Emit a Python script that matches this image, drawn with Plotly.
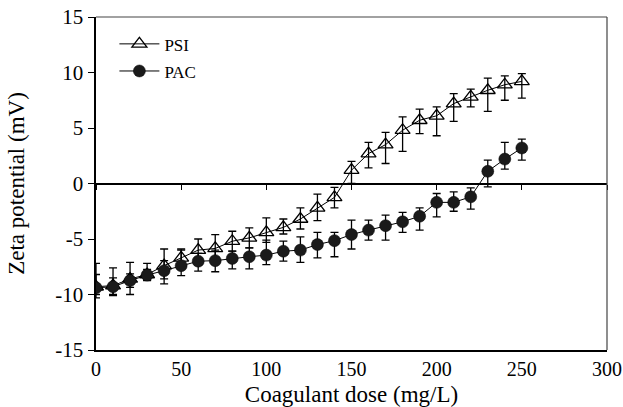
import plotly.graph_objects as go

dose = [0, 10, 20, 30, 40, 50, 60, 70, 80, 90, 100, 110, 120, 130, 140, 150,
        160, 170, 180, 190, 200, 210, 220, 230, 240, 250]

psi = [-9.3, -9.2, -8.6, -8.2, -7.4, -6.7, -6.0, -5.85, -5.2, -4.9, -4.4, -3.95,
       -3.2, -2.2, -1.25, 1.2, 2.7, 3.5, 4.8, 5.7, 6.1, 7.2, 7.8, 8.4, 8.9, 9.2]
psi_err_plus = [2.1, 1.6, 1.5, 1.0, 1.5, 0.8, 1.0, 1.25, 0.9, 0.9, 1.3, 0.75,
                1.0, 1.25, 0.9, 0.8, 1.0, 1.1, 1.2, 1.0, 0.8, 0.9, 0.7, 1.1, 0.8, 0.7]
psi_err_minus = [1.0, 0.9, 1.4, 0.5, 1.2, 0.8, 0.9, 0.9, 0.9, 0.9, 0.9, 0.6,
                 0.9, 1.15, 0.95, 1.2, 1.3, 1.7, 1.9, 1.2, 1.8, 1.6, 0.9, 1.9, 1.4, 1.5]

pac = [-9.4, -9.3, -8.75, -8.25, -7.85, -7.4, -7.0, -6.95, -6.75, -6.6, -6.45,
       -6.1, -6.0, -5.5, -5.15, -4.6, -4.2, -3.8, -3.45, -2.95, -1.7, -1.7,
       -1.2, 1.1, 2.2, 3.2]
pac_err_plus = [1.2, 0.8, 0.6, 0.5, 0.9, 1.4, 0.7, 0.95, 0.65, 0.8, 1.35, 0.9,
                1.2, 1.1, 0.75, 1.3, 0.9, 0.95, 0.85, 0.75, 0.8, 0.95, 0.8, 1.0, 1.5, 0.8]
pac_err_minus = [0.6, 0.7, 0.6, 0.5, 1.2, 0.9, 0.9, 1.0, 0.95, 1.1, 0.85, 0.9,
                 1.1, 1.2, 1.45, 1.3, 0.9, 1.3, 0.95, 1.25, 1.3, 0.8, 1.1, 1.4, 0.9, 1.1]

x_ticks = [0, 50, 100, 150, 200, 250, 300]
x_ticktext = ["0", "50", "100", "150", "200", "250", "300"]
y_ticks = [-15, -10, -5, 0, 5, 10, 15]
y_ticktext = ["-15", "-10", "-5", "0", "5", "10", "15"]

FONT = "Liberation Serif"

fig = go.Figure()

fig.add_trace(go.Scatter(
    x=dose, y=psi, mode="lines+markers", name="PSI",
    legendgroup="a",
    line=dict(color="black", width=1),
    marker=dict(symbol="triangle-up-open", size=13, color="black",
                line=dict(width=1.3, color="black")),
    error_y=dict(type="data", symmetric=False, array=psi_err_plus,
                 arrayminus=psi_err_minus, color="black", thickness=1.3, width=4),
))
fig.add_trace(go.Scatter(
    x=dose, y=pac, mode="lines+markers", name="PAC",
    legendgroup="b",
    line=dict(color="black", width=1),
    marker=dict(symbol="circle", size=12, color="#1a1a1a",
                line=dict(width=0.5, color="black")),
    error_y=dict(type="data", symmetric=False, array=pac_err_plus,
                 arrayminus=pac_err_minus, color="black", thickness=1.3, width=4),
))
# dummy trace to hold the zero-line axis
fig.add_trace(go.Scatter(x=[0], y=[0], xaxis="x2", mode="markers",
                         marker=dict(opacity=0), showlegend=False,
                         hoverinfo="skip"))

fig.update_layout(
    width=623, height=407,
    margin=dict(l=96, r=16, t=17, b=57, autoexpand=False),
    paper_bgcolor="white", plot_bgcolor="white",
    font=dict(family=FONT, color="black", size=20),
    showlegend=True,
    legend=dict(x=0.036, y=0.972, xanchor="left", yanchor="top",
                bgcolor="rgba(0,0,0,0)", font=dict(size=17, family=FONT),
                traceorder="grouped", tracegroupgap=2, itemwidth=40),
    xaxis=dict(range=[0, 300], tickvals=x_ticks, ticktext=x_ticktext, ticks="",
               showgrid=False, automargin=False, ticklabeloverflow="allow",
               zeroline=False, showline=True, linecolor="black", linewidth=1.5,
               tickfont=dict(size=20, family=FONT),
               title=dict(text="Coagulant dose (mg/L)", font=dict(size=23, family=FONT),
                          standoff=13)),
    xaxis2=dict(range=[0, 300], overlaying="x", anchor="free", position=0.5,
                tickvals=x_ticks, ticks="outside", ticklen=5, tickwidth=1,
                tickcolor="black", showticklabels=False, showgrid=False,
                zeroline=False, showline=True, linecolor="black", linewidth=2),
    yaxis=dict(range=[-15, 15], tickvals=y_ticks, ticktext=y_ticktext,
               ticks="outside", ticklen=6, automargin=False,
               ticklabeloverflow="allow",
               tickwidth=1, tickcolor="black", showgrid=False, zeroline=False,
               showline=True, linecolor="black", linewidth=2.5,
               tickfont=dict(size=21, family=FONT),
               title=dict(text="Zeta potential (mV)", font=dict(size=23, family=FONT),
                          standoff=24)),
    shapes=[
        dict(type="line", xref="paper", yref="paper", x0=0, x1=1, y0=1, y1=1,
             line=dict(color="#444", width=1.2)),
        dict(type="line", xref="paper", yref="paper", x0=1, x1=1, y0=0, y1=1,
             line=dict(color="#444", width=1.2)),
    ],
)

fig.write_html("out.html",
               config={"displayModeBar": False, "staticPlot": True},
               post_script="document.body.style.margin='0';"
                           "document.body.style.overflow='hidden';")
